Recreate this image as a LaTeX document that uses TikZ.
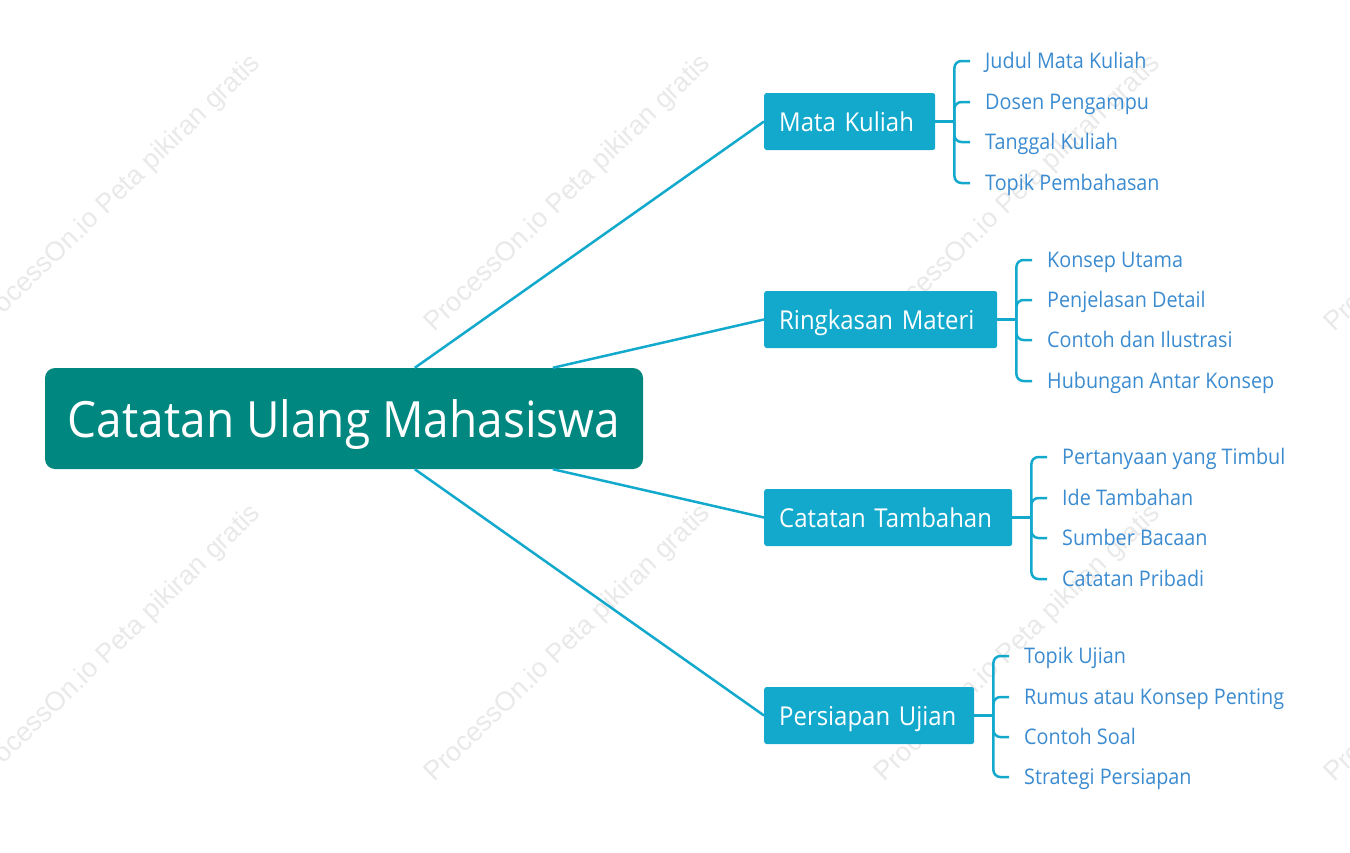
\documentclass[tikz,border=0pt]{standalone}
\usepackage{fontspec}
\setmainfont{Open Sans}[FakeStretch=0.92]
\newfontfamily\wmfont{Liberation Sans}
\usetikzlibrary{calc}
\definecolor{rootc}{HTML}{00877F}
\definecolor{brc}{HTML}{12A9CC}
\definecolor{leafc}{HTML}{3B8BD0}
\definecolor{wmc}{HTML}{E9E9E9}
\tikzset{
  rootbox/.style={fill=rootc, rounded corners=10pt, minimum width=598pt, minimum height=101pt, text=white, font=\fontsize{50}{56}\selectfont, inner sep=0pt, text height=37pt, text depth=0pt},
  brbox/.style={fill=brc, rounded corners=2.5pt, minimum height=57pt, text=white, font=\fontsize{26}{30}\selectfont, anchor=west, inner xsep=15pt, inner ysep=0pt, align=left, text height=20pt, text depth=0pt},
  leaf/.style={text=leafc, font=\fontsize{21.5}{25}\selectfont, anchor=west, inner sep=0pt, text height=16pt, text depth=2pt},
  conn/.style={draw=brc, line width=2.5pt},
  brk/.style={draw=brc, line width=2.5pt, rounded corners=7pt},
  wm/.style={text=wmc, font=\wmfont\fontsize{27}{30}\selectfont, rotate=44, inner sep=0pt}
}
\begin{document}
\begin{tikzpicture}[x=1pt,y=-1pt]
\useasboundingbox (0,0) rectangle (1350,852);
\begin{scope}
\clip (0,0) rectangle (1350,852);
\foreach \cx in {118,568,1018,1468}{
  \foreach \cy in {194,644}{
    \node[wm] at (\cx,\cy) {ProcessOn.io Peta pikiran gratis};
  }
}
\end{scope}

\node[rootbox] (root) at (344,418.5) {Catatan Ulang Mahasiswa};

\node[brbox, text width=141pt] (mk) at (764,121.5) {Mata Kuliah};
\node[brbox, text width=203pt] (rm) at (764,319.5) {Ringkasan Materi};
\node[brbox, text width=218pt] (ct) at (764,517.5) {Catatan Tambahan};
\node[brbox, text width=180pt] (pu) at (764,715.5) {Persiapan Ujian};

\draw[conn] ([xshift=370pt]root.north west) -- (mk.west);
\draw[conn] ([xshift=508pt]root.north west) -- (rm.west);
\draw[conn] ([xshift=508pt]root.south west) -- (ct.west);
\draw[conn] ([xshift=370pt]root.south west) -- (pu.west);

% Mata Kuliah leaves
\node[leaf] (mk1) at (985,61) {Judul Mata Kuliah};
\node[leaf] (mk2) at (985,102) {Dosen Pengampu};
\node[leaf] (mk3) at (985,142) {Tanggal Kuliah};
\node[leaf] (mk4) at (985,183) {Topik Pembahasan};
% Ringkasan Materi leaves
\node[leaf] (rm1) at (1047,260) {Konsep Utama};
\node[leaf] (rm2) at (1047,300) {Penjelasan Detail};
\node[leaf] (rm3) at (1047,340) {Contoh dan Ilustrasi};
\node[leaf] (rm4) at (1047,381) {Hubungan Antar Konsep};
% Catatan Tambahan leaves
\node[leaf] (ct1) at (1062,457) {Pertanyaan yang Timbul};
\node[leaf] (ct2) at (1062,498) {Ide Tambahan};
\node[leaf] (ct3) at (1062,538) {Sumber Bacaan};
\node[leaf] (ct4) at (1062,579) {Catatan Pribadi};
% Persiapan Ujian leaves
\node[leaf] (pu1) at (1024,656) {Topik Ujian};
\node[leaf] (pu2) at (1024,697) {Rumus atau Konsep Penting};
\node[leaf] (pu3) at (1024,737) {Contoh Soal};
\node[leaf] (pu4) at (1024,777) {Strategi Persiapan};

\foreach \b in {mk,rm,ct,pu}{
  \draw[conn] (\b.east) -- ++(19,0) coordinate (\b j);
  \foreach \i in {1,2,3,4}{
    \draw[brk] (\b j) |- ([xshift=-15pt]\b\i.west);
  }
}
\end{tikzpicture}
\end{document}
